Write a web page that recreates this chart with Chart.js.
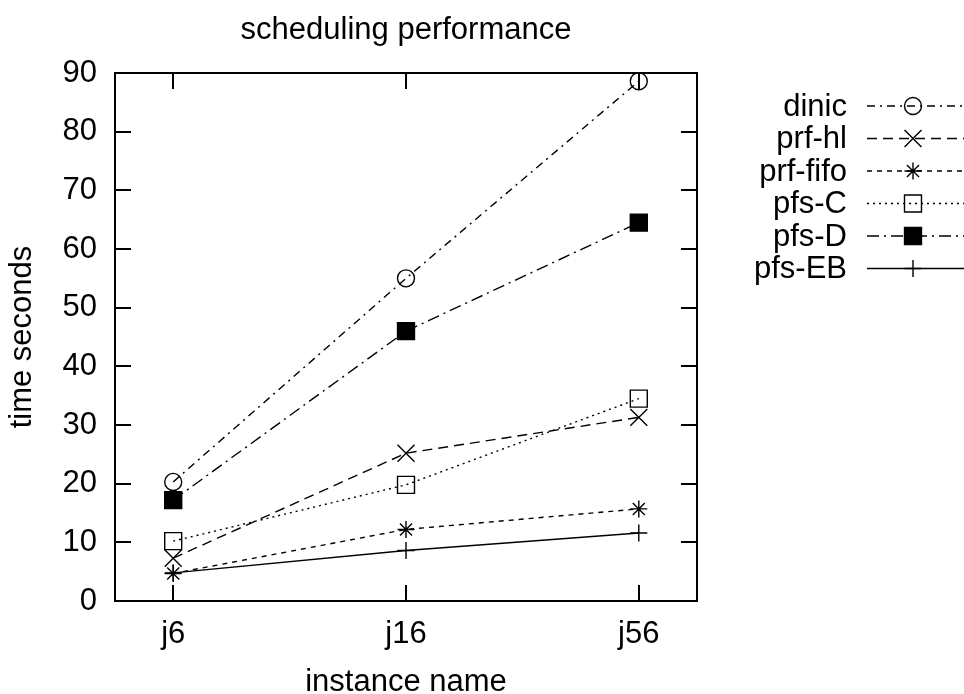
<!DOCTYPE html>
<html>
<head>
<meta charset="utf-8">
<script src="https://cdn.jsdelivr.net/npm/chart.js@4/dist/chart.umd.min.js"></script>
<style>
  body { margin: 0; background: #fff; }
</style>
</head>
<body>
<canvas id="perfChart" width="964" height="694"></canvas>
<script>
const instances = ["j6", "j16", "j56"];
const yTicks = [0, 10, 20, 30, 40, 50, 60, 70, 80, 90];

const dinic = [20.3, 55.0, 88.6];
const prfHl = [7.3, 25.2, 31.3];
const prfFifo = [4.7, 12.2, 15.7];
const pfsC = [10.2, 19.8, 34.5];
const pfsD = [17.2, 46.0, 64.5];
const pfsEB = [4.8, 8.6, 11.6];

const FONT = "'Liberation Sans', Arial, sans-serif";
const FS = 31;

function pts(values) {
  return values.map((v, i) => ({ x: i, y: v }));
}

function series(label, values, dash, style, radius, filled) {
  return {
    label: label,
    data: pts(values),
    borderColor: "#000",
    borderWidth: 1.4,
    borderDash: dash,
    pointStyle: style,
    pointRadius: radius,
    pointHoverRadius: radius,
    pointBorderColor: "#000",
    pointBorderWidth: 1.4,
    pointBackgroundColor: filled ? "#000" : "rgba(0,0,0,0)",
    fill: false,
    tension: 0,
  };
}

// gnuplot style frame with inward ticks on all four sides
const framePlugin = {
  id: "frame",
  afterDatasetsDraw(chart) {
    const { ctx, chartArea: a, scales } = chart;
    ctx.save();
    ctx.strokeStyle = "#000";
    ctx.lineWidth = 2;
    ctx.setLineDash([]);
    const len = 16;
    ctx.beginPath();
    scales.y.ticks.forEach(t => {
      const py = Math.round(scales.y.getPixelForValue(t.value));
      if (py <= a.top + 1 || py >= a.bottom - 1) return;
      ctx.moveTo(a.left, py); ctx.lineTo(a.left + len, py);
      ctx.moveTo(a.right, py); ctx.lineTo(a.right - len, py);
    });
    scales.x.ticks.forEach(t => {
      const px = Math.round(scales.x.getPixelForValue(t.value));
      ctx.moveTo(px, a.bottom); ctx.lineTo(px, a.bottom - len);
      ctx.moveTo(px, a.top); ctx.lineTo(px, a.top + len);
    });
    ctx.stroke();
    ctx.strokeRect(a.left, a.top, a.right - a.left, a.bottom - a.top);
    ctx.restore();
  }
};

// legend drawn like gnuplot's key: right aligned label, line sample, marker
const keyPlugin = {
  id: "key",
  afterDraw(chart) {
    const { ctx } = chart;
    ctx.save();
    ctx.font = FS + "px " + FONT;
    ctx.textAlign = "right";
    ctx.textBaseline = "middle";
    chart.data.datasets.forEach((ds, i) => {
      const y = 106 + i * 32.5;
      ctx.fillStyle = "#000";
      ctx.fillText(ds.label, 847, y + 1);
      ctx.strokeStyle = "#000";
      ctx.lineWidth = ds.borderWidth;
      ctx.setLineDash(ds.borderDash || []);
      ctx.beginPath();
      ctx.moveTo(867, y);
      ctx.lineTo(964, y);
      ctx.stroke();
      ctx.setLineDash([]);
      ctx.lineWidth = ds.pointBorderWidth;
      ctx.fillStyle = ds.pointBackgroundColor;
      Chart.helpers.drawPoint(ctx, {
        pointStyle: ds.pointStyle,
        radius: ds.pointRadius,
        borderWidth: ds.pointBorderWidth,
        rotation: 0,
      }, 913, y);
    });
    ctx.restore();
  }
};

const ctx = document.getElementById("perfChart").getContext("2d");

const perfChart = new Chart(ctx, {
  type: "line",
  data: {
    datasets: [
      series("dinic", dinic, [8, 5, 2, 5], "circle", 8.5, false),
      series("prf-hl", prfHl, [10, 6], "crossRot", 12, false),
      series("prf-fifo", prfFifo, [5, 5], "star", 8.5, false),
      series("pfs-C", pfsC, [2, 4], "rect", 12, false),
      series("pfs-D", pfsD, [12, 5, 2, 5], "rect", 12, true),
      series("pfs-EB", pfsEB, [], "cross", 8.5, false),
    ],
  },
  options: {
    responsive: false,
    animation: false,
    layout: { padding: { left: 0, right: 267, top: 0, bottom: 0 } },
    plugins: {
      legend: { display: false },
      tooltip: { enabled: false },
      title: {
        display: true,
        text: "scheduling performance",
        color: "#000",
        fullSize: false,
        font: { family: FONT, size: FS, weight: "normal", lineHeight: 1 },
        padding: { top: 15, bottom: 27 },
      },
    },
    scales: {
      x: {
        type: "linear",
        min: -0.25,
        max: 2.25,
        afterBuildTicks: s => { s.ticks = instances.map((_, i) => ({ value: i })); },
        afterFit: s => { s.height = 93; },
        grid: { display: false, drawTicks: false },
        border: { display: false },
        ticks: {
          color: "#000",
          padding: 18,
          font: { family: FONT, size: FS, lineHeight: 1 },
          callback: v => instances[v],
        },
        title: {
          display: true,
          text: "instance name",
          color: "#000",
          font: { family: FONT, size: FS, lineHeight: 0.75 },
          padding: { top: 0, bottom: 0 },
        },
      },
      y: {
        min: 0,
        max: 90,
        afterBuildTicks: s => { s.ticks = yTicks.map(v => ({ value: v })); },
        afterFit: s => { s.width = 115; },
        grid: { display: false, drawTicks: false },
        border: { display: false },
        ticks: {
          color: "#000",
          padding: 18,
          font: { family: FONT, size: FS, lineHeight: 1 },
        },
        title: {
          display: true,
          text: "time seconds",
          color: "#000",
          font: { family: FONT, size: FS, lineHeight: 1 },
          padding: { top: 7, bottom: 0 },
        },
      },
    },
  },
  plugins: [framePlugin, keyPlugin],
});
</script>
</body>
</html>
